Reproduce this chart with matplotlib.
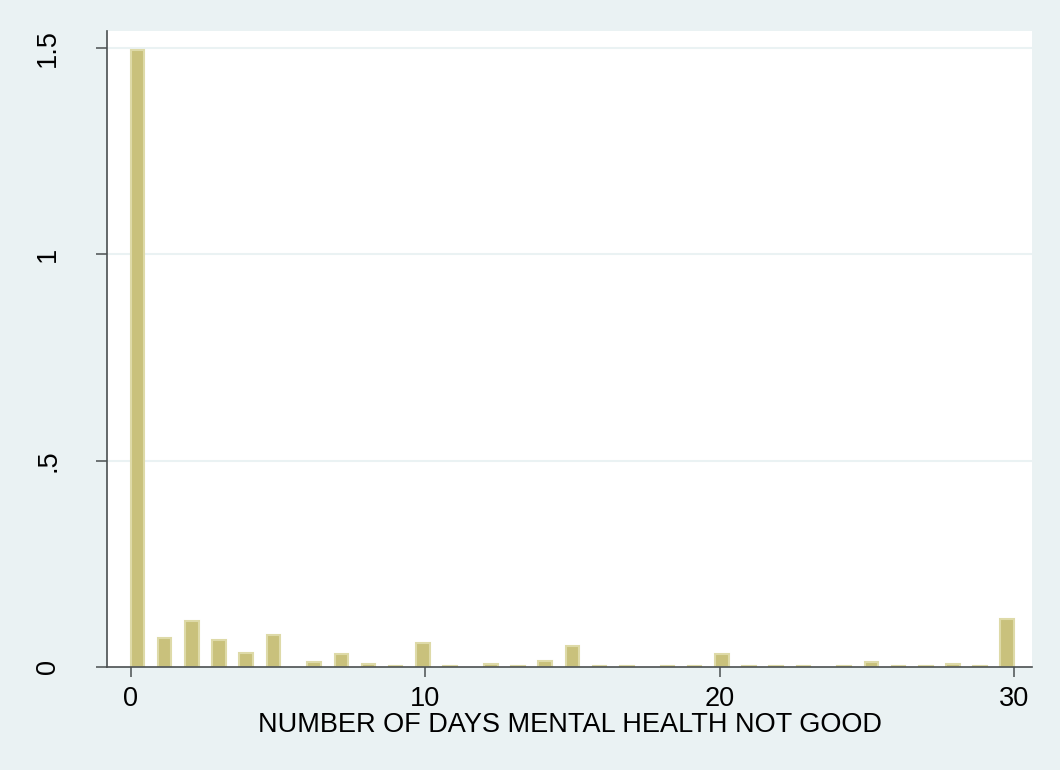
import numpy as np
import matplotlib.pyplot as plt

plt.rcParams['font.family'] = ['Liberation Sans', 'DejaVu Sans']

# days of poor mental health (0-30) and histogram density
days = np.arange(0, 31)
density = [1.494, 0.071, 0.111, 0.065, 0.034, 0.077, 0.011, 0.031, 0.007, 0.003,
           0.057, 0.003, 0.006, 0.003, 0.014, 0.052, 0.003, 0.003, 0.003, 0.003,
           0.031, 0.003, 0.003, 0.003, 0.003, 0.011, 0.003, 0.003, 0.006, 0.003,
           0.117]
n_bins = 65
xticks = [0, 10, 20, 30]
yticks = [0, 0.5, 1, 1.5]
yticklabels = ['0', '.5', '1', '1.5']
xlabel = 'NUMBER OF DAYS MENTAL HEALTH NOT GOOD'

# stata-style bins: 65 equal bins over 0..30, each day falls in one bin
width = 30 / n_bins
idx = np.minimum(np.floor(days * n_bins / 30 + 1e-9), n_bins - 1)
left = idx * width

bg = '#eaf2f3'
fig = plt.figure(figsize=(10.6, 7.7), dpi=100, facecolor=bg)
ax = fig.add_axes([0.1009, 0.1338, 0.8727, 0.8259])
ax.set_facecolor('white')

for y in yticks[1:]:
    ax.axhline(y, color=bg, lw=1.5, zorder=0)

ax.bar(left, density, width=width, align='edge', color='#c9c17c',
       edgecolor='#dedaa8', linewidth=1.5, zorder=2)

ax.set_xlim(-0.805, 30.61)
ax.set_ylim(0, 1.541)
ax.set_xticks(xticks)
ax.set_yticks(yticks)
ax.set_yticklabels(yticklabels, rotation=90, va='center')

for s in ['top', 'right']:
    ax.spines[s].set_visible(False)
for s in ['left', 'bottom']:
    ax.spines[s].set_color('#4a4f50')
    ax.spines[s].set_linewidth(1.2)

ax.tick_params(axis='x', length=7.5, width=1.1, color='#4a4f50',
               labelsize=19.5, pad=6)
ax.tick_params(axis='y', length=8, width=1.1, color='#4a4f50',
               labelsize=19.5, pad=25)
ax.set_xlabel(xlabel, size=19.5, labelpad=0)

plt.savefig('out.png', dpi=100, facecolor=bg)
